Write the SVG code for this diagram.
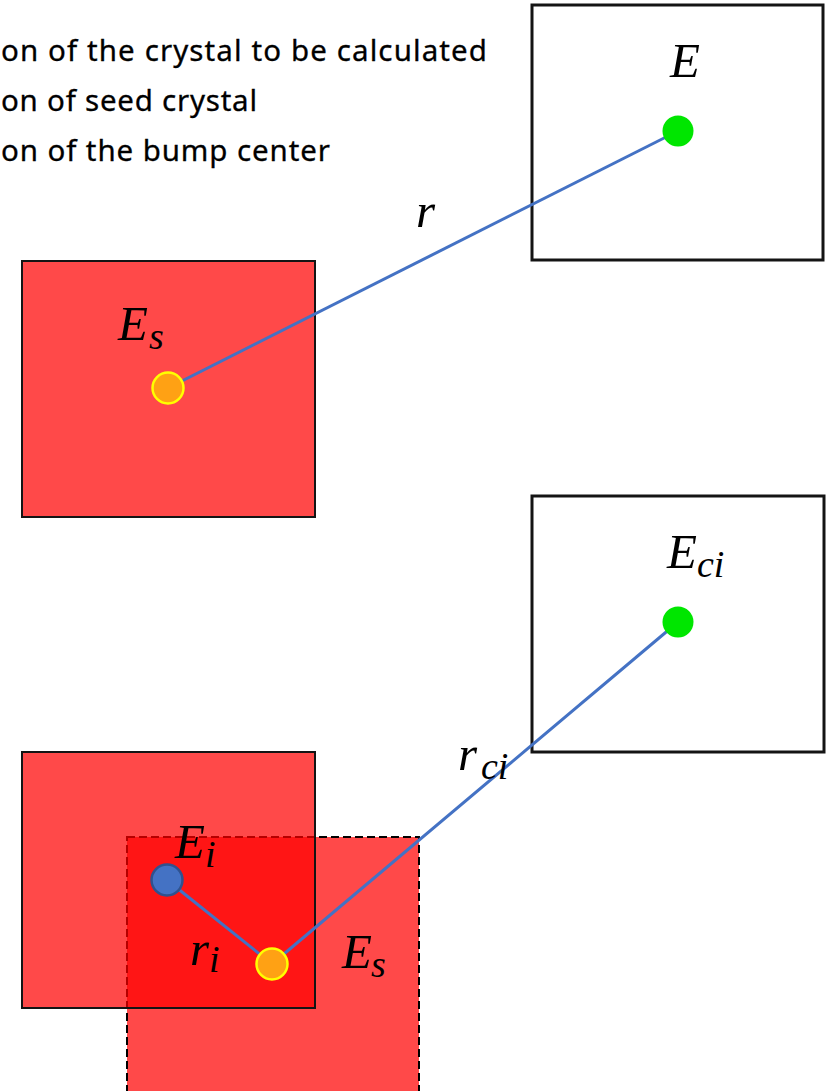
<svg xmlns="http://www.w3.org/2000/svg" width="838" height="1091" viewBox="0 0 838 1091">
  <style>
    .legend { font-family: "Noto Sans", "Open Sans", sans-serif; font-size: 29.5px; fill: #000; stroke: #000; stroke-width: 0.3; }
    .math { font-family: "Liberation Serif", "DejaVu Serif", serif; font-style: italic; font-size: 49px; fill: #000; }
    .sub { font-size: 38px; }
    .white { fill: #ffffff; stroke: #141414; stroke-width: 3; }
    .red { fill: #ff0000; fill-opacity: 0.715; stroke: #141414; stroke-width: 2; }
    .reddash { fill: #ff0000; fill-opacity: 0.715; stroke: #000; stroke-width: 2; stroke-dasharray: 8 4; }
    .conn { stroke: #4472c4; stroke-width: 3; fill: none; }
    .green { fill: #00e600; }
    .orange { fill: #ffa114; stroke: #ffff00; stroke-width: 2.5; }
    .blue { fill: #4472c4; stroke: #2f528f; stroke-width: 2.5; }
  </style>

  <g id="legend">
    <text class="legend" x="1" y="61" textLength="486" lengthAdjust="spacing">on of the crystal to be calculated</text>
    <text class="legend" x="1" y="111" textLength="256" lengthAdjust="spacing">on of seed crystal</text>
    <text class="legend" x="1" y="161" textLength="329" lengthAdjust="spacing">on of the bump center</text>
  </g>

  <g id="box-E">
    <rect class="white" x="532" y="5" width="291" height="255"/>
    <text class="math" x="670" y="77">E</text>
  </g>

  <g id="box-Es-top">
    <rect class="red" x="22" y="261" width="293" height="256"/>
    <text class="math" x="118" y="340">E<tspan class="sub" x="149" y="349">s</tspan></text>
  </g>

  <g id="box-Eci">
    <rect class="white" x="532" y="496" width="292" height="256"/>
    <text class="math" x="667" y="568">E<tspan class="sub" x="697" y="577">ci</tspan></text>
  </g>

  <g id="box-Es-dashed">
    <rect class="reddash" x="127" y="837" width="292" height="256"/>
  </g>

  <g id="box-Ei">
    <rect class="red" x="22" y="752" width="293" height="256"/>
  </g>

  <g id="connectors">
    <line class="conn" x1="168" y1="388" x2="678" y2="131"/>
    <line class="conn" x1="167" y1="880" x2="272" y2="964"/>
    <line class="conn" x1="272" y1="964" x2="678" y2="622"/>
  </g>

  <g id="dot-E"><circle class="green" cx="678" cy="131" r="15.5"/></g>
  <g id="dot-Es-top"><circle class="orange" cx="168" cy="388" r="15.5"/></g>
  <g id="dot-Eci"><circle class="green" cx="678" cy="622" r="15.5"/></g>
  <g id="dot-Ei"><circle class="blue" cx="167" cy="880" r="15.5"/></g>
  <g id="dot-Es-bottom"><circle class="orange" cx="272" cy="964" r="15.5"/></g>

  <g id="labels">
    <text class="math" x="416" y="227">r</text>
    <text class="math" x="458" y="770">r<tspan class="sub" x="481" y="779">ci</tspan></text>
    <text class="math" x="175" y="858">E<tspan class="sub" x="205" y="867">i</tspan></text>
    <text class="math" x="190" y="965">r<tspan class="sub" x="209" y="972">i</tspan></text>
    <text class="math" x="342" y="968">E<tspan class="sub" x="371" y="977">s</tspan></text>
  </g>
</svg>
